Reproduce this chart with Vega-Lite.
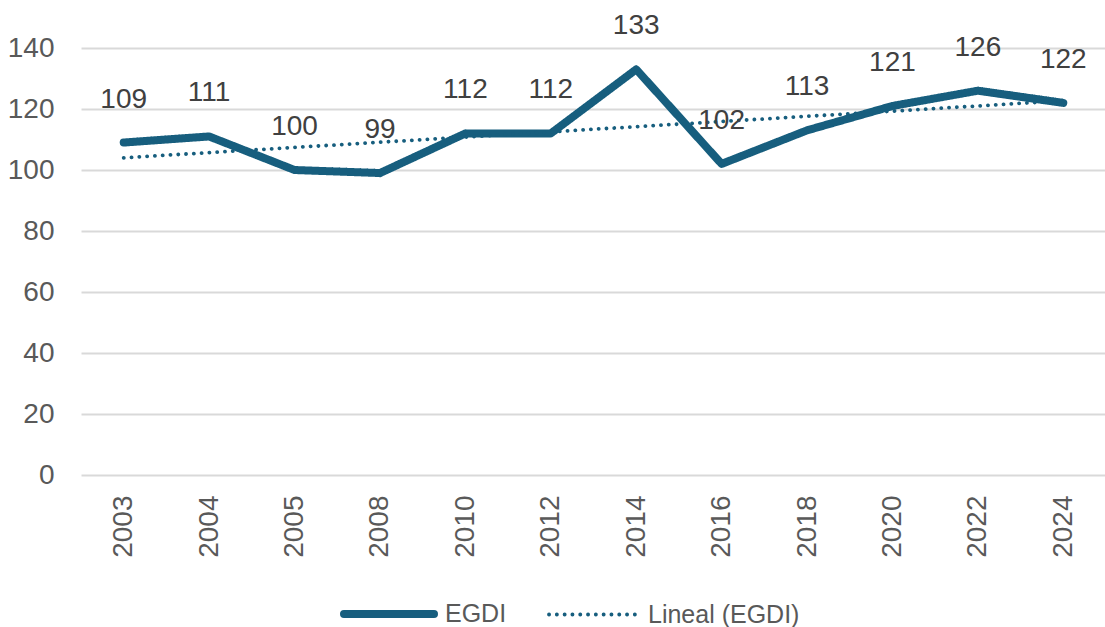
{
  "$schema": "https://vega.github.io/schema/vega-lite/v6.json",
  "autosize": "none",
  "width": 1025,
  "height": 427,
  "padding": {"left": 81, "top": 48, "right": 0, "bottom": 152},
  "background": "white",
  "config": {
    "view": {"stroke": null},
    "font": "Liberation Sans"
  },
  "data": {
    "values": [
      {"year": "2003", "series": "EGDI", "value": 109},
      {"year": "2004", "series": "EGDI", "value": 111},
      {"year": "2005", "series": "EGDI", "value": 100},
      {"year": "2008", "series": "EGDI", "value": 99},
      {"year": "2010", "series": "EGDI", "value": 112},
      {"year": "2012", "series": "EGDI", "value": 112},
      {"year": "2014", "series": "EGDI", "value": 133},
      {"year": "2016", "series": "EGDI", "value": 102},
      {"year": "2018", "series": "EGDI", "value": 113},
      {"year": "2020", "series": "EGDI", "value": 121},
      {"year": "2022", "series": "EGDI", "value": 126},
      {"year": "2024", "series": "EGDI", "value": 122},
      {"year": "2003", "series": "Lineal (EGDI)", "value": 104.0},
      {"year": "2004", "series": "Lineal (EGDI)", "value": 105.7},
      {"year": "2005", "series": "Lineal (EGDI)", "value": 107.4},
      {"year": "2008", "series": "Lineal (EGDI)", "value": 109.1},
      {"year": "2010", "series": "Lineal (EGDI)", "value": 110.8},
      {"year": "2012", "series": "Lineal (EGDI)", "value": 112.5},
      {"year": "2014", "series": "Lineal (EGDI)", "value": 114.2},
      {"year": "2016", "series": "Lineal (EGDI)", "value": 115.9},
      {"year": "2018", "series": "Lineal (EGDI)", "value": 117.6},
      {"year": "2020", "series": "Lineal (EGDI)", "value": 119.3},
      {"year": "2022", "series": "Lineal (EGDI)", "value": 121.0},
      {"year": "2024", "series": "Lineal (EGDI)", "value": 122.7}
    ]
  },
  "encoding": {
    "x": {
      "field": "year",
      "type": "ordinal",
      "scale": {"paddingInner": 0, "paddingOuter": 0.5},
      "axis": {
        "title": null,
        "labelAngle": -90,
        "labelAlign": "right",
        "labelBaseline": "middle",
        "labelFontSize": 28,
        "labelColor": "#595959",
        "labelPadding": 20,
        "ticks": false,
        "domain": false,
        "grid": false
      }
    },
    "y": {
      "field": "value",
      "type": "quantitative",
      "scale": {"domain": [0, 140], "nice": false},
      "axis": {
        "title": null,
        "values": [0, 20, 40, 60, 80, 100, 120, 140],
        "labelFontSize": 28,
        "labelColor": "#595959",
        "labelPadding": 27,
        "ticks": false,
        "domain": false,
        "gridColor": "#d9d9d9",
        "gridWidth": 2,
        "labelBaseline": "middle"
      }
    }
  },
  "layer": [
    {
      "mark": {"type": "line", "strokeCap": "round", "strokeJoin": "round"},
      "encoding": {
        "color": {
          "field": "series",
          "type": "nominal",
          "scale": {"domain": ["EGDI", "Lineal (EGDI)"], "range": ["#175e7e", "#175e7e"]},
          "legend": {
            "title": null,
            "orient": "none",
            "legendX": 259,
            "legendY": 517,
            "direction": "horizontal",
            "symbolType": "stroke",
            "symbolSize": 8100,
            "labelFontSize": 25,
            "labelColor": "#595959",
            "columnPadding": 34,
            "labelOffset": 7,
            "encode": {"symbols": {"update": {"strokeCap": {"value": "round"}, "strokeDash": {"signal": "datum.value === 'EGDI' ? [1, 0] : [0.1, 10]"}}}}
          }
        },
        "strokeDash": {
          "field": "series",
          "type": "nominal",
          "scale": {"domain": ["EGDI", "Lineal (EGDI)"], "range": [[1, 0], [0.1, 7.7]]},
          "legend": {
            "title": null,
            "orient": "none",
            "legendX": 259,
            "legendY": 517,
            "direction": "horizontal",
            "symbolType": "stroke",
            "symbolSize": 8100,
            "labelFontSize": 25,
            "labelColor": "#595959",
            "columnPadding": 34,
            "labelOffset": 7,
            "encode": {"symbols": {"update": {"strokeCap": {"value": "round"}, "strokeDash": {"signal": "datum.value === 'EGDI' ? [1, 0] : [0.1, 10]"}}}}
          }
        },
        "strokeWidth": {
          "field": "series",
          "type": "nominal",
          "scale": {"domain": ["EGDI", "Lineal (EGDI)"], "range": [8, 3.8]},
          "legend": {
            "title": null,
            "orient": "none",
            "legendX": 259,
            "legendY": 517,
            "direction": "horizontal",
            "symbolType": "stroke",
            "symbolSize": 8100,
            "labelFontSize": 25,
            "labelColor": "#595959",
            "columnPadding": 34,
            "labelOffset": 7,
            "encode": {"symbols": {"update": {"strokeCap": {"value": "round"}, "strokeDash": {"signal": "datum.value === 'EGDI' ? [1, 0] : [0.1, 10]"}}}}
          }
        }
      }
    },
    {
      "transform": [{"filter": "datum.series === 'EGDI'"}],
      "mark": {"type": "text", "dy": -43, "fontSize": 28, "color": "#404040", "baseline": "middle"},
      "encoding": {
        "text": {"field": "value", "type": "quantitative"}
      }
    }
  ]
}
